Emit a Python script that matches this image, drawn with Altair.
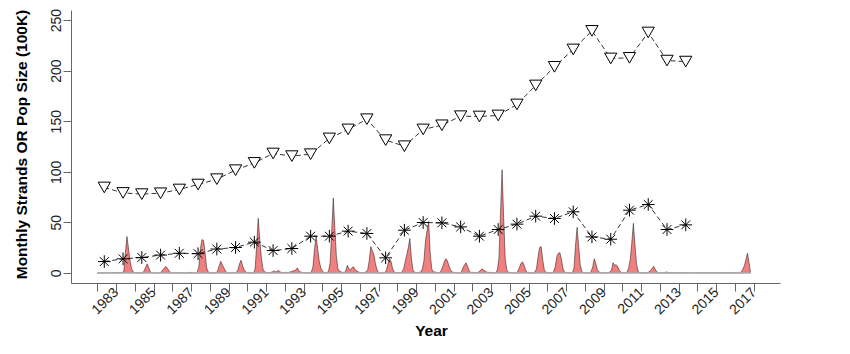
import altair as alt
import pandas as pd

# ---------------- data ----------------
years = list(range(1983, 2015))

pop_size = [84.5, 79.1, 77.9, 78.8, 82.5, 87.4, 92.7, 101.6, 108.8, 118.1,
            115.5, 117.4, 133.0, 141.9, 152.0, 131.3, 125.3, 141.9, 146.0, 155.0,
            154.7, 155.7, 166.6, 185.4, 203.8, 221.0, 239.4, 212.1, 212.7, 237.8,
            210.0, 209.0]

annual_strands = [11.2, 13.9, 15.2, 17.6, 19.4, 19.0, 23.6, 25.1, 30.4, 22.1,
                  24.1, 36.3, 36.3, 41.3, 39.0, 14.9, 42.2, 49.8, 49.5, 45.5,
                  36.3, 42.9, 48.2, 56.1, 53.8, 60.4, 35.6, 33.3, 62.0, 67.6,
                  42.9, 47.5]

# monthly strands, Jan 1983 onward
monthly_1983_1989 = [
    0, 0, 0, 0, 0, 0, 0, 0, 0, 0, 0, 0.5,            # 1983
    0.5, 0, 0, 0.5, 0, 2, 20, 36, 24, 12, 4, 1,      # 1984
    0, 0, 0, 0, 0, 0, 2, 6, 9, 5, 1, 0,              # 1985
    0, 0, 0, 0, 0, 1, 3, 5, 6.5, 4, 2, 0,            # 1986
    0, 0, 0, 0, 0, 0, 0, 0, 0, 0, 0, 0.5,            # 1987
    0.5, 0, 0, 0, 1, 6, 24, 33, 32, 20, 5, 1,        # 1988
    0, 0, 0, 0, 0, 2, 7, 11.5, 8, 5, 2, 0,           # 1989
]
monthly_1990_1999 = [
    0, 0, 0, 0, 0, 0.5, 3, 9, 12.5, 7, 3, 1,         # 1990
    0, 0, 0, 0, 0, 4, 28, 54, 32, 15, 4, 1,          # 1991
    0.5, 0, 0, 0.5, 1, 2, 1, 1.5, 2.5, 1, 0.5, 0,    # 1992
    0.5, 0.5, 0, 1, 1, 2, 2, 3, 5, 2, 1, 0.5,        # 1993
    0, 0, 0, 0, 0, 1, 6, 24, 36, 24, 12, 5,          # 1994
    2, 0.5, 0, 0, 2, 10, 42, 74, 45, 16, 4, 1.5,     # 1995
    1, 0.5, 0.5, 2, 7.5, 4, 3, 5, 6, 3, 2, 1,        # 1996
    0.5, 0, 0, 0.5, 1, 3, 12, 26, 22, 18, 9, 3,      # 1997
    0.5, 0, 0, 0, 0, 3, 9, 14, 11, 4, 1, 0,          # 1998
    0.5, 0, 0, 1, 4, 11, 18, 25, 34, 14, 3, 0.5,     # 1999
]
monthly_2000_2009 = [
    0.5, 0, 0.5, 1, 4, 12, 32, 42, 51, 20, 4, 1,     # 2000
    1, 0.5, 0, 0.5, 2, 6, 11, 14, 12, 7, 3, 1,       # 2001
    0.5, 0, 0, 0, 0, 1, 5, 8, 10, 6, 2, 0.5,         # 2002
    0.5, 0.5, 0, 0, 1, 2, 4, 3, 2, 1, 0.5, 0.5,      # 2003
    0.5, 0, 0, 0, 3, 15, 60, 102, 55, 14, 3, 0.5,    # 2004
    0.5, 0, 0, 0, 0, 1.5, 5, 9, 11, 8, 3, 0.5,       # 2005
    0.5, 0, 0, 0, 1, 4, 16, 25, 26, 13, 3, 0.5,      # 2006
    0.5, 0, 0, 0, 1.5, 6, 16, 19.5, 20, 13, 4, 0.5,  # 2007
    0.5, 0, 0, 0, 0, 5, 28, 45, 26, 8, 1.5, 0,       # 2008
    0, 0, 0, 0, 1.5, 6, 14, 9, 3, 1, 0, 0,           # 2009
]
monthly_2010_2017 = [
    0, 0, 0, 0, 1, 3, 10, 7.5, 8, 6, 2.5, 0.5,       # 2010
    0, 0, 0, 1, 5, 13, 30, 49, 28, 9, 2, 0,          # 2011
    0, 0, 0, 0, 0.5, 1, 2.5, 4.5, 6.5, 3.5, 1, 0,    # 2012
    0, 0, 0, 0, 1, 0.5, 0, 0, 0, 0, 0, 0,            # 2013
    0, 0, 0, 0, 0, 0, 0, 0, 0, 0, 0, 0,              # 2014
    0, 0, 0, 0, 0, 0, 0, 0, 0, 0, 0, 0,              # 2015
    0, 0, 0, 0, 0, 0, 0, 0, 0.5, 0, 0, 0,            # 2016
    0, 0, 0, 0, 1, 3.5, 7, 13, 19.5, 10, 0,          # 2017 (to Nov)
]

x_ticks = list(range(1983, 2019))
y_ticks = [0, 50, 100, 150, 200, 250]

# ---------------- tables ----------------
monthly = monthly_1983_1989 + monthly_1990_1999 + monthly_2000_2009 + monthly_2010_2017
month_df = pd.DataFrame({"x": [1983 + i / 12 for i in range(len(monthly))], "v": monthly})
base_df = pd.DataFrame({"x": [month_df["x"].iloc[0]], "x2": [month_df["x"].iloc[-1]], "v": [0]})
pop_df = pd.DataFrame({"x": [y + 0.375 for y in years], "v": pop_size})
ast_df = pd.DataFrame({"x": [y + 0.375 for y in years], "v": annual_strands})

FONT = "Liberation Sans"
xscale = alt.Scale(domain=[1981.6, 2019.4], nice=False, zero=False)
yscale = alt.Scale(domain=[-10, 260], nice=False, zero=False)

xaxis = alt.Axis(values=x_ticks, labelExpr="datum.value % 2 == 0 ? '' + (datum.value - 1) : ''",
                 labelAngle=315, labelAlign="right", labelBaseline="middle",
                 tickSize=8, labelPadding=-1, labelOverlap=False, labelFlush=False,
                 title="Year", titleX=360, titleY=52, titleAlign="center",
                 titleBaseline="alphabetic")
yaxis = alt.Axis(values=y_ticks, labelAngle=270, labelAlign="center", labelBaseline="alphabetic",
                 tickSize=8, labelPadding=3, labelOverlap=False, labelFlush=False,
                 title="Monthly Strands OR Pop Size (100K)", titleAngle=270,
                 titleX=-45, titleY=134, titleAlign="center", titleBaseline="alphabetic")


def X():
    return alt.X("x:Q", scale=xscale, axis=xaxis)


def Y():
    return alt.Y("v:Q", scale=yscale, axis=yaxis)


area = alt.Chart(month_df).mark_area(color="#F08080", opacity=1).encode(x=X(), y=Y())
outline = alt.Chart(month_df).mark_line(color="#111111", strokeWidth=0.5).encode(x=X(), y=Y())
baseline = alt.Chart(base_df).mark_rule(color="#aaaaaa", strokeWidth=1.5).encode(
    x=X(), x2="x2:Q", y=Y())

pop_line = alt.Chart(pop_df).mark_line(color="black", strokeWidth=0.8, strokeDash=[5, 3]).encode(
    x=X(), y=Y())
pop_pts = alt.Chart(pop_df).mark_point(shape="triangle-down", size=150, filled=True, fill="white",
                                       stroke="black", strokeWidth=1, opacity=1).encode(x=X(), y=Y())

ast_line = alt.Chart(ast_df).mark_line(color="black", strokeWidth=0.8, strokeDash=[5, 3]).encode(
    x=X(), y=Y())
ast_pts = alt.Chart(ast_df).mark_point(
    shape="M-1,0L1,0M0,-1L0,1M-0.7,-0.7L0.7,0.7M-0.7,0.7L0.7,-0.7",
    size=160, filled=False, stroke="black", strokeWidth=1, opacity=1).encode(x=X(), y=Y())

chart = alt.layer(area, outline, baseline, pop_line, pop_pts, ast_line, ast_pts).properties(
    width=709, height=273,
    autosize=alt.AutoSizeParams(type="none"),
    padding={"left": 71, "top": 10, "right": 70, "bottom": 71},
    background="white",
).configure_view(stroke=None).configure_axis(
    grid=False, domainColor="#666666", tickColor="#666666", domainWidth=1, tickWidth=1,
    labelColor="#222222", labelFont=FONT, labelFontSize=14,
    titleColor="black", titleFont=FONT, titleFontSize=15.5, titleFontWeight="bold",
)

chart.save("out.html", embed_options={"renderer": "svg", "actions": False})
